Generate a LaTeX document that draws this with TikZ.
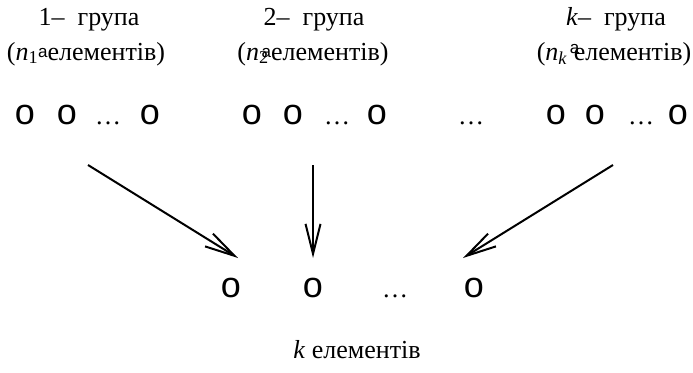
\documentclass[tikz,border=0pt]{standalone}
\usepackage{fontspec}
\setmainfont{Liberation Serif}
\setsansfont{Liberation Sans}
\usetikzlibrary{arrows.meta,
	positioning,
	calc}

% stray raised letter that sits in the count lines
\newcommand{\straya}[1][3pt]{\raisebox{#1}{\fontsize{17}{17}\selectfont\sffamily a}}

\begin{document}
\begin{tikzpicture}[x=1pt, y=-1pt,
            lbl/.style={font=\fontsize{26}{30}\selectfont, inner sep=0pt, anchor=base},
            elem/.style={font=\fontsize{36}{40}\selectfont\sffamily, inner sep=0pt, anchor=base},
            gap/.style={font=\fontsize{26}{30}\selectfont, inner sep=0pt, anchor=base},
            pick/.style={line width=2pt, -{Straight Barb[length=30pt,width=15pt]}}]
            \useasboundingbox (0, 0) rectangle (693, 372);

            % group titles
            \node[lbl] (g1) at (89, 25) {1–\ \ група};
            \node[lbl] (c1) at (86, 60) {(\textit{n}\textsubscript{1}\straya елементів)};
            \node[lbl] (g2) at (314, 25) {2–\ \ група};
            \node[lbl] (c2) at (313, 60) {(\textit{n}\textsubscript{2}\hspace{-7pt}\straya елементів)};
            \node[lbl] (g3) at (616, 25) {\textit{k}–\ \ група};
            \node[lbl] (c3) at (614, 60) {(\textit{n}\textsubscript{\textit{k}} \rlap{\hspace{-4pt}\straya[7pt]}елементів)};

            % elements of the groups
            \begin{scope}[every node/.style={elem}]
                \node (a11) at (25, 124) {o};
                \node (a12) at (67, 124) {o};
                \node[gap] (d1) at (108, 124) {…};
                \node (a1n) at (150, 124) {o};

                \node (a21) at (252, 124) {o};
                \node (a22) at (293, 124) {o};
                \node[gap] (d2) at (337, 124) {…};
                \node (a2n) at (377, 124) {o};

                \node[gap] (dd) at (471, 124) {…};

                \node (ak1) at (556, 124) {o};
                \node (ak2) at (595, 124) {o};
                \node[gap] (dk) at (641, 124) {…};
                \node (akn) at (678, 124) {o};
            \end{scope}

            % chosen elements
            \begin{scope}[every node/.style={elem}]
                \node (b1) at (231, 297) {o};
                \node (b2) at (313, 297) {o};
                \node[gap] (db) at (395, 297) {…};
                \node (bk) at (474, 297) {o};
            \end{scope}
            \node[lbl] (total) at (357, 358) {\textit{k} елементів};

            % arrows
            \coordinate (s1) at (88, 165);
            \coordinate (t1) at (238, 258);
            \coordinate (s2) at (313, 165);
            \coordinate (t2) at (313, 258);
            \coordinate (s3) at (613, 165);
            \coordinate (t3) at (463, 258);
            \draw[pick] (s1) -- (t1);
            \draw[pick] (s2) -- (t2);
            \draw[pick] (s3) -- (t3);
        \end{tikzpicture}
\end{document}
